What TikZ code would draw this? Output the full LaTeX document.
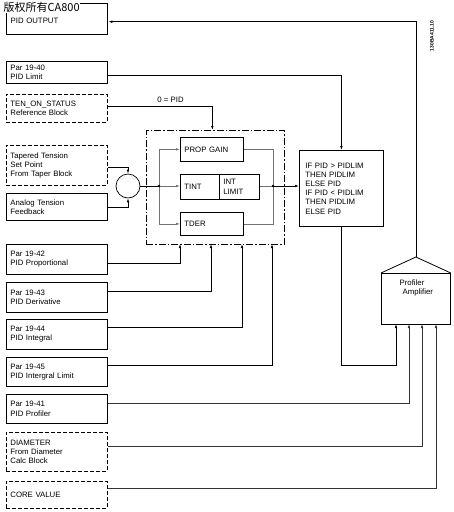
\documentclass[tikz,border=0pt]{standalone}
\usepackage{fontspec}
\setmainfont{Liberation Sans}
\newfontfamily\cjkfont{Noto Sans CJK SC}
\usetikzlibrary{arrows.meta,calc}

\tikzset{
  blk/.style={draw, line width=0.8pt, anchor=north west, minimum width=101pt,
    text width=93pt, inner xsep=4pt, inner ysep=1pt, align=left},
  dblk/.style={blk, dash pattern=on 4pt off 2pt},
  fblk/.style={draw, line width=0.8pt, anchor=north west, inner xsep=4pt,
    inner ysep=1pt, align=left},
  bus/.style={black!55},
  feed/.style={->, black!80}
}

\begin{document}
\begin{tikzpicture}[x=1pt, y=-1pt, line width=0.7pt,
    >={Latex[length=4pt,width=2.6pt]},
    every node/.style={font=\fontsize{7.8}{9.2}\selectfont}]
  \useasboundingbox (0,0) rectangle (454,512);

  % left column
  \node[blk, line width=1.4pt, minimum height=31pt] (out) at (6,3) {\mbox{}\\PID OUTPUT};
  \node[fill=white, inner sep=0.3pt, anchor=north west,
    font=\cjkfont\fontsize{11}{11}\selectfont] (wm) at (3,2) {版权所有CA800};
  \node[blk, minimum height=22pt] (lim) at (6,61) {Par 19-40\\PID Limit};
  \node[dblk, minimum height=28pt] (ten) at (6,94) {TEN\_ON\_STATUS\\Reference Block};
  \node[dblk, minimum height=40pt] (taper) at (6,145) {Tapered Tension\\Set Point\\From Taper Block};
  \node[blk, minimum height=27pt] (analog) at (6,193) {Analog Tension\\Feedback};
  \node[blk, minimum height=30pt] (p42) at (6,244) {Par 19-42\\PID Proportional};
  \node[blk, minimum height=30pt] (p43) at (6,282) {Par 19-43\\PID Derivative};
  \node[blk, minimum height=30pt] (p44) at (6,319) {Par 19-44\\PID Integral};
  \node[blk, minimum height=29pt] (p45) at (6,357) {Par 19-45\\PID Intergral Limit};
  \node[blk, minimum height=29pt] (p41) at (6,394) {Par 19-41\\PID Profiler};
  \node[dblk, minimum height=39pt] (diam) at (6,432) {DIAMETER\\From Diameter\\Calc Block};
  \node[dblk, minimum height=27pt] (core) at (6,481) {CORE VALUE};

  % summing point and PID block
  \node[draw, circle, minimum size=24pt, inner sep=0pt] (sum) at (128,186) {};
  \node[draw, dash pattern=on 7pt off 2pt on 1.5pt off 2pt, anchor=north west,
    minimum width=138pt, minimum height=114pt] (pid) at (146,130) {};
  \node[fblk, minimum width=63pt, minimum height=24pt, text width=55pt] (prop) at (180,137) {PROP GAIN};
  \node[fblk, minimum width=39pt, minimum height=25pt, text width=31pt] (tint) at (180,174) {TINT};
  \node[fblk, minimum width=40pt, minimum height=25pt, text width=32pt] (intlim) at (219,174) {INT\\LIMIT};
  \node[fblk, minimum width=63pt, minimum height=23pt, text width=55pt] (tder) at (180,212) {TDER};
  \coordinate (lbus) at (159,186);
  \coordinate (rbus) at (273,186);
  \coordinate (in1) at (180,244);
  \coordinate (in2) at (211,244);
  \coordinate (in3) at (242,244);
  \coordinate (in4) at (272,244);

  % limiter
  \node[fblk, minimum width=84pt, minimum height=76pt, text width=72pt, inner xsep=6pt] (ifbox) at (299,150)
    {IF PID > PIDLIM\\THEN PIDLIM\\ELSE PID\\IF PID < PIDLIM\\THEN PIDLIM\\ELSE PID};

  % profiler amplifier
  \node[draw, line width=0.8pt, anchor=north west, minimum width=69pt, minimum height=51pt] (amp) at (381,273) {};
  \coordinate (apex) at ($(amp.north)+(0,-16)$);
  \draw[line width=0.8pt] (amp.north west) -- (apex) -- (amp.north east);
  \node[align=left, anchor=west] (amptxt) at (396,288) {Profiler\\\hspace{3pt}Amplifier};
  \coordinate (a1) at (396,324);
  \coordinate (a2) at (409,324);
  \coordinate (a3) at (422,324);
  \coordinate (a4) at (436,324);

  \node[rotate=90, font=\bfseries\fontsize{5}{5}\selectfont] (figid) at (432,36) {130BA411.10};

  % connectors
  \draw[->] (apex) |- ([yshift=-2.5pt]out.east);
  \draw[->] ([yshift=-3pt]lim.east) -| (ifbox.north);
  \draw[->] ([yshift=2pt]ten.east) -| node[pos=0.3, above] (zero) {0 = PID} ([xshift=-3pt]pid.north);
  \draw[->] ([yshift=-2pt]taper.east) -| (sum.north);
  \draw[->] (analog.east) -| (sum.south);
  \draw (sum.east) -- (lbus);
  \draw[->, bus] (lbus) |- (prop.west);
  \draw[->, bus] (lbus) -- (lbus -| tint.west);
  \draw[->, bus] (lbus) |- (tder.west);
  \draw[bus] (prop.east) -| (rbus);
  \draw[bus] (tder.east) -| (rbus);
  \draw[bus] (intlim.east |- rbus) -- (rbus);
  \fill (lbus) circle (1.4pt);
  \fill (rbus) circle (1.4pt);
  \draw[->] (rbus) -- (rbus -| ifbox.west);

  \draw[->] ([yshift=-4pt]p42.east) -| (in1);
  \draw[->] ([yshift=6pt]p43.east) -| (in2);
  \draw[->] ([yshift=7pt]p44.east) -| (in3);
  \draw[->] ([yshift=6.5pt]p45.east) -| (in4);

  \draw[->] (ifbox.south) -- ++(0,139) -| (a1);
  \draw[feed] ([yshift=5.5pt]p41.east) -| (a2);
  \draw[feed] ([yshift=5.5pt]diam.east) -| (a3);
  \draw[feed] ([yshift=6.5pt]core.east) -| (a4);
\end{tikzpicture}
\end{document}
